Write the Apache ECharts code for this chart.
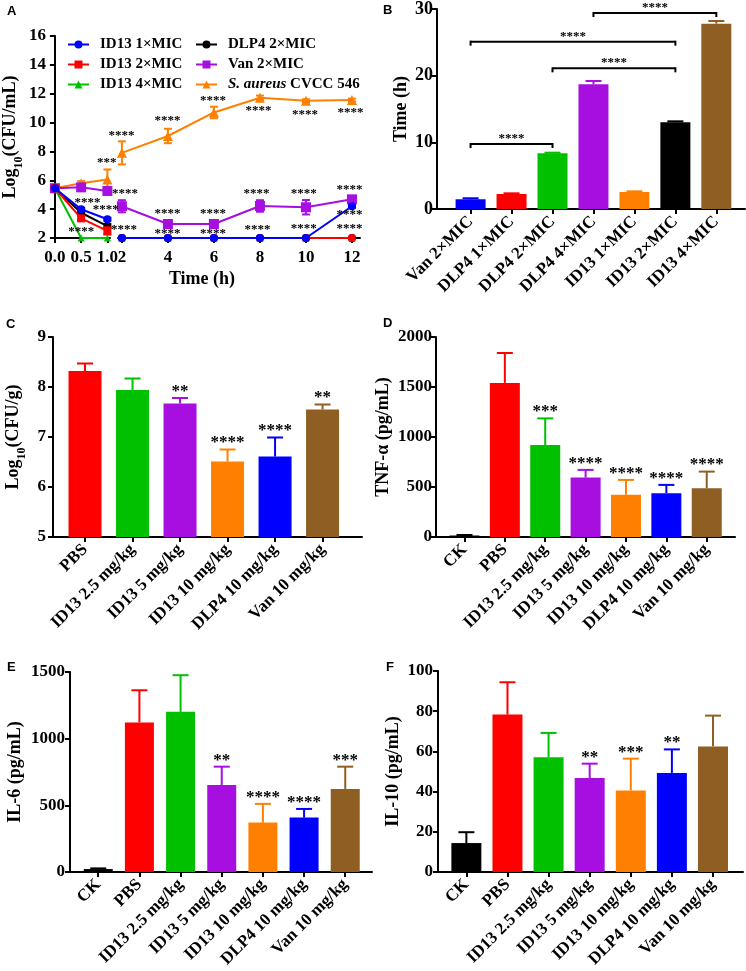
<!DOCTYPE html>
<html><head><meta charset="utf-8">
<script src="https://cdn.jsdelivr.net/npm/echarts@6/dist/echarts.min.js"></script>
<style>html,body{margin:0;padding:0;background:#fff}#chart{width:746px;height:971px}</style>
</head><body><div id="chart"></div>
<script>
// ---------- Panel A : time-kill curves (broken time axis) ----------
const timesEarly = [0, 0.5, 1.0];
const timesLate = [2, 4, 6, 8, 10, 12];
const timeTicksEarly = [0, 0.5, 1.0];
const timeTicksLate = [2, 4, 6, 8, 10, 12];

const id13x1Early = [5.45, 3.99, 3.30];
const id13x1Late  = [2, 2, 2, 2, 2, 4.20];
const id13x1ErrEarly = [0.08, 0.1, 0.1];
const id13x1ErrLate  = [0, 0, 0, 0, 0, 0.1];

const id13x2Early = [5.45, 3.36, 2.49];
const id13x2Late  = [2, 2, 2, 2, 2, 2];
const id13x2ErrEarly = [0.08, 0.15, 0.25];

const id13x4Early = [5.45, 2, 2];
const id13x4Late  = [2, 2, 2, 2, 2, 2];

const dlp4x2Early = [5.45, 3.75, 2.83];
const dlp4x2Late  = [2, 2, 2, 2, 2, 2];
const dlp4x2ErrEarly = [0.08, 0.1, 0.15];

const vanx2Early = [5.45, 5.51, 5.26];
const vanx2Late  = [4.20, 2.97, 2.97, 4.22, 4.13, 4.68];
const vanx2ErrEarly = [0.1, 0.15, 0.15];
const vanx2ErrLate  = [0.42, 0.1, 0.1, 0.4, 0.5, 0.15];

const saurEarly = [5.45, 5.79, 6.05];
const saurLate  = [7.90, 9.07, 10.70, 11.72, 11.52, 11.56];
const saurErrEarly = [0.1, 0.15, 0.7];
const saurErrLate  = [0.8, 0.5, 0.4, 0.15, 0.1, 0.1];

// significance marks of panel A: [time, log10 value, mark]
const starsAEarly = [[0.62, 4.43, '****'], [0.5, 2.42, '****'], [0.99, 7.25, '***'], [0.97, 3.95, '****']];
const starsALate = [
  [1.98, 9.08, '****'], [2.13, 5.06, '****'], [2.09, 2.58, '****'],
  [3.98, 10.12, '****'], [5.96, 11.5, '****'], [7.94, 10.81, '****'], [9.96, 10.53, '****'], [11.94, 10.67, '****'],
  [3.98, 3.67, '****'], [5.96, 3.67, '****'], [7.85, 5.06, '****'], [9.91, 5.06, '****'], [11.89, 5.33, '****'],
  [11.89, 3.6, '****'],
  [3.98, 2.29, '****'], [5.96, 2.29, '****'], [7.89, 2.56, '****'], [9.91, 2.63, '****'], [11.89, 2.63, '****']
];

// ---------- Panel B ----------
const catsB = ['Van 2×MIC', 'DLP4 1×MIC', 'DLP4 2×MIC', 'DLP4 4×MIC', 'ID13 1×MIC', 'ID13 2×MIC', 'ID13 4×MIC'];
const valsB = [1.46, 2.25, 8.35, 18.7, 2.55, 13.0, 27.8];
const errsB = [0.15, 0.1, 0.1, 0.5, 0.1, 0.15, 0.4];
const starsB = ['', '', '', '', '', '', ''];
// brackets: [from category, to category, height (h), mark]
const bracketsB = [[0, 2, 9.75, '****'], [2, 5, 21.1, '****'], [0, 5, 25.1, '****'], [3, 6, 29.4, '****']];

// ---------- Panel C ----------
const catsC = ['PBS', 'ID13 2.5 mg/kg', 'ID13 5 mg/kg', 'ID13 10 mg/kg', 'DLP4 10 mg/kg', 'Van 10 mg/kg'];
const valsC = [8.32, 7.94, 7.67, 6.51, 6.61, 7.55];
const errsC = [0.15, 0.23, 0.11, 0.24, 0.38, 0.10];
const starsC = ['', '', '**', '****', '****', '**'];

// ---------- Panels D, E, F ----------
const catsDEF = ['CK', 'PBS', 'ID13 2.5 mg/kg', 'ID13 5 mg/kg', 'ID13 10 mg/kg', 'DLP4 10 mg/kg', 'Van 10 mg/kg'];
const valsD = [15, 1541, 920, 594, 422, 438, 488];
const errsD = [5, 299, 266, 77, 149, 83, 166];
const starsD = ['', '', '***', '****', '****', '****', '****'];

const valsE = [22, 1122, 1201, 653, 371, 408, 623];
const errsE = [5, 241, 275, 137, 140, 65, 167];
const starsE = ['', '', '', '**', '****', '****', '***'];

const valsF = [14.4, 78.3, 57.1, 46.8, 40.6, 49.3, 62.5];
const errsF = [5.4, 16.1, 12.1, 7.1, 15.8, 11.7, 15.3];
const starsF = ['', '', '', '**', '***', '**', ''];

// ---------- styling ----------
const SERIF = 'Liberation Serif';
const BLUE = '#0000FF', RED = '#FF0000', GREEN = '#00C000', BLACK = '#000000',
      PURPLE = '#A60FE0', ORANGE = '#FF8000', BROWN = '#8E5E22';
const colorsB = [BLUE, RED, GREEN, PURPLE, ORANGE, BLACK, BROWN];
const colorsC = [RED, GREEN, PURPLE, ORANGE, BLUE, BROWN];
const colorsDEF = [BLACK, RED, GREEN, PURPLE, ORANGE, BLUE, BROWN];

const grids = [
  {left: 49, top: 36, width: 61, height: 202},   // A early
  {left: 118, top: 36, width: 242, height: 202}, // A late
  {left: 437, top: 9, width: 308, height: 200},  // B
  {left: 53, top: 337, width: 309, height: 200}, // C
  {left: 436, top: 337, width: 299, height: 200},// D
  {left: 70, top: 672, width: 302, height: 200}, // E
  {left: 438, top: 671, width: 305, height: 201} // F
];

const lineAxis = {show: true, onZero: false, lineStyle: {color: '#000', width: 2}};
const tickStyle = {show: true, length: 5, lineStyle: {color: '#000', width: 2}};
function lbl(size, extra) {
  return Object.assign({color: '#000', fontFamily: SERIF, fontWeight: 'bold', fontSize: size}, extra || {});
}
const nameRich = {s: {fontFamily: SERIF, fontWeight: 'bold', fontSize: 12, verticalAlign: 'bottom', padding: [0, 0, -6, 0]}};

const xAxes = [], yAxes = [], series = [];

// ----- panel A axes -----
xAxes.push({gridIndex: 0, type: 'value', min: 0, max: 1.05,
  axisLine: lineAxis, axisTick: Object.assign({customValues: timeTicksEarly}, tickStyle),
  axisLabel: lbl(17, {customValues: timeTicksEarly, margin: 11, formatter: v => v.toFixed(1)}),
  splitLine: {show: false}});
xAxes.push({gridIndex: 1, type: 'value', min: 1.83, max: 12.35,
  axisLine: lineAxis, axisTick: Object.assign({customValues: timeTicksLate}, tickStyle),
  axisLabel: lbl(17, {customValues: timeTicksLate, margin: 11, formatter: v => String(Math.round(v))}),
  splitLine: {show: false}});
yAxes.push({gridIndex: 0, type: 'value', min: 2, max: 16, interval: 2,
  axisLine: lineAxis, axisTick: tickStyle, axisLabel: lbl(17, {margin: 9, formatter: v => String(v)}), splitLine: {show: false},
  name: 'Log{s|10}(CFU/mL)', nameLocation: 'middle', nameRotate: 90, nameGap: 30,
  nameTextStyle: lbl(18, {rich: nameRich})});
yAxes.push({gridIndex: 1, type: 'value', min: 2, max: 16, interval: 2, show: false});

function lineSer(name, color, symbol, size, xs, ys, gi, z) {
  return {type: 'line', name: name, xAxisIndex: gi, yAxisIndex: gi,
    data: xs.map((x, i) => [x, ys[i]]), symbol: symbol, symbolSize: size,
    itemStyle: {color: color}, lineStyle: {color: color, width: 2}, z: z,
    clip: false, animation: false};
}
function errSer(color, xs, ys, es, gi, z, both, capHalf) {
  return {type: 'custom', xAxisIndex: gi, yAxisIndex: gi, silent: true, z: z, animation: false,
    data: xs.map((x, i) => [x, ys[i], es[i]]).filter(d => d[2] > 0),
    renderItem: function (p, api) {
      const x = api.value(0), y = api.value(1), e = api.value(2);
      const top = api.coord([x, y + e]);
      const bot = api.coord([x, both ? y - e : y]);
      const st = {stroke: color, lineWidth: 2};
      const ch = [
        {type: 'line', shape: {x1: top[0], y1: top[1], x2: bot[0], y2: bot[1]}, style: st},
        {type: 'line', shape: {x1: top[0] - capHalf, y1: top[1], x2: top[0] + capHalf, y2: top[1]}, style: st}
      ];
      if (both) ch.push({type: 'line', shape: {x1: bot[0] - capHalf, y1: bot[1], x2: bot[0] + capHalf, y2: bot[1]}, style: st});
      return {type: 'group', children: ch};
    }};
}
function textSer(items, gi, size) {
  return {type: 'custom', xAxisIndex: gi, yAxisIndex: gi, silent: true, z: 20, animation: false,
    data: items.map(d => [d[0], d[1]]),
    renderItem: function (p, api) {
      const pt = api.coord([api.value(0), api.value(1)]);
      return {type: 'text', x: pt[0], y: pt[1],
        style: {text: items[p.dataIndex][2], textAlign: 'center', textVerticalAlign: 'middle',
          font: 'bold ' + size + 'px "' + SERIF + '"', fill: '#000'}};
    }};
}

const aDefs = [
  ['S. aureus CVCC 546', ORANGE, 'triangle', 10, saurEarly, saurLate, saurErrEarly, saurErrLate, 2],
  ['Van 2×MIC', PURPLE, 'rect', 10, vanx2Early, vanx2Late, vanx2ErrEarly, vanx2ErrLate, 3],
  ['ID13 4×MIC', GREEN, 'triangle', 7, id13x4Early, id13x4Late, null, null, 4],
  ['DLP4 2×MIC', BLACK, 'circle', 8, dlp4x2Early, dlp4x2Late, dlp4x2ErrEarly, null, 5],
  ['ID13 2×MIC', RED, 'rect', 8, id13x2Early, id13x2Late, id13x2ErrEarly, null, 6],
  ['ID13 1×MIC', BLUE, 'circle', 8, id13x1Early, id13x1Late, id13x1ErrEarly, id13x1ErrLate, 7]
];
aDefs.forEach(d => {
  series.push(lineSer(d[0], d[1], d[2], d[3], timesEarly, d[4], 0, d[8]));
  const lateSym = d[0] === 'ID13 2×MIC' ? 'circle' : d[2];
  series.push(lineSer(d[0], d[1], lateSym, d[3], timesLate, d[5], 1, d[8]));
  if (d[6]) series.push(errSer(d[1], timesEarly, d[4], d[6], 0, d[8], true, 4));
  if (d[7]) series.push(errSer(d[1], timesLate, d[5], d[7], 1, d[8], true, 4));
});
series.push(textSer(starsAEarly, 0, 13));
series.push(textSer(starsALate, 1, 13));

// ----- bar panels -----
function barPanel(gi, cats, vals, errs, colors, stars, yMin, yMax, yStep, xMin, xMax, barW, cap, yName, nameGap, lblMargin, tickSize, starSize) {
  const ticks = cats.map((_, i) => i);
  xAxes.push({gridIndex: gi, type: 'value', min: xMin, max: xMax,
    axisLine: lineAxis, axisTick: Object.assign({customValues: ticks}, tickStyle),
    axisLabel: lbl(17, {customValues: ticks, rotate: 45, margin: 10, formatter: v => cats[Math.round(v)]}),
    splitLine: {show: false}});
  yAxes.push({gridIndex: gi, type: 'value', min: yMin, max: yMax, interval: yStep,
    axisLine: lineAxis, axisTick: tickStyle, axisLabel: lbl(tickSize, {margin: lblMargin, formatter: v => String(v)}), splitLine: {show: false},
    name: yName, nameLocation: 'middle', nameRotate: 90, nameGap: nameGap,
    nameTextStyle: lbl(18, {rich: nameRich})});
  series.push({type: 'bar', xAxisIndex: gi, yAxisIndex: gi, barWidth: barW, animation: false,
    data: vals.map((v, i) => ({value: [i, v], itemStyle: {color: colors[i]}}))});
  series.push({type: 'custom', xAxisIndex: gi, yAxisIndex: gi, silent: true, z: 3, animation: false,
    data: vals.map((v, i) => [i, v, errs[i]]),
    renderItem: function (p, api) {
      const i = api.value(0), v = api.value(1), e = api.value(2);
      const top = api.coord([i, v + e]), base = api.coord([i, v]);
      const st = {stroke: colors[p.dataIndex], lineWidth: 2};
      const ch = [
        {type: 'line', shape: {x1: top[0], y1: top[1], x2: base[0], y2: base[1]}, style: st},
        {type: 'line', shape: {x1: top[0] - cap, y1: top[1], x2: top[0] + cap, y2: top[1]}, style: st}
      ];
      if (stars[p.dataIndex]) ch.push({type: 'text', x: top[0], y: top[1] + 2,
        style: {text: stars[p.dataIndex], textAlign: 'center', textVerticalAlign: 'bottom',
          font: 'bold ' + starSize + 'px "' + SERIF + '"', fill: '#000'}});
      return {type: 'group', children: ch};
    }});
}

barPanel(2, catsB, valsB, errsB, colorsB, starsB, 0, 30, 10, -0.82, 6.70, 30, 8, 'Time (h)', 27, 4, 18, 13);
barPanel(3, catsC, valsC, errsC, colorsC, starsC, 5, 9, 1, -0.674, 5.83, 33, 8, 'Log{s|10}(CFU/g)', 31, 7, 17, 17);
barPanel(4, catsDEF, valsD, errsD, colorsDEF, starsD, 0, 2000, 500, -0.705, 6.70, 30, 8, 'TNF-α (pg/mL)', 44, 4, 17, 17);
barPanel(5, catsDEF, valsE, errsE, colorsDEF, starsE, 0, 1500, 500, -0.686, 6.65, 29, 8, 'IL-6 (pg/mL)', 46, 5, 17, 17);
barPanel(6, catsDEF, valsF, errsF, colorsDEF, starsF, 0, 100, 20, -0.69, 6.73, 30, 8, 'IL-10 (pg/mL)', 36, 5, 17, 17);

// brackets of panel B
series.push({type: 'custom', xAxisIndex: 2, yAxisIndex: 2, silent: true, z: 10, animation: false,
  data: bracketsB.map(b => [b[0], b[1], b[2]]),
  renderItem: function (p, api) {
    const a = api.coord([api.value(0), api.value(2)]);
    const b = api.coord([api.value(1), api.value(2)]);
    const st = {stroke: '#000', lineWidth: 2};
    return {type: 'group', children: [
      {type: 'line', shape: {x1: a[0], y1: a[1], x2: b[0], y2: b[1]}, style: st},
      {type: 'line', shape: {x1: a[0], y1: a[1] - 1, x2: a[0], y2: a[1] + 4}, style: st},
      {type: 'line', shape: {x1: b[0], y1: b[1] - 1, x2: b[0], y2: b[1] + 4}, style: st},
      {type: 'text', x: (a[0] + b[0]) / 2, y: a[1] + 1,
        style: {text: bracketsB[p.dataIndex][3], textAlign: 'center', textVerticalAlign: 'bottom',
          font: 'bold 13px "' + SERIF + '"', fill: '#000'}}
    ]};
  }});

const legendText = {color: '#000', fontFamily: SERIF, fontWeight: 'bold', fontSize: 15, padding: [0, 0, 0, 6],
  rich: {i: {color: '#000', fontFamily: SERIF, fontWeight: 'bold', fontStyle: 'italic', fontSize: 15}}};
const legendFmt = n => n === 'S. aureus CVCC 546' ? '{i|S. aureus} CVCC 546' : n;

function letter(t, x, y) {
  return {type: 'text', left: x, top: y, style: {text: t, font: 'bold 13px "Liberation Sans"', fill: '#000'}};
}

const option = {
  animation: false,
  backgroundColor: '#fff',
  grid: grids,
  xAxis: xAxes,
  yAxis: yAxes,
  legend: [
    {orient: 'vertical', left: 62, top: 32, itemWidth: 21, itemHeight: 10, itemGap: 5,
      data: ['ID13 1×MIC', 'ID13 2×MIC', 'ID13 4×MIC'], textStyle: legendText, formatter: legendFmt, selectedMode: false},
    {orient: 'vertical', left: 190, top: 32, itemWidth: 21, itemHeight: 10, itemGap: 5,
      data: ['DLP4 2×MIC', 'Van 2×MIC', 'S. aureus CVCC 546'], textStyle: legendText, formatter: legendFmt, selectedMode: false}
  ],
  graphic: [
    letter('A', 7, 5), letter('B', 383, 4), letter('C', 6, 318),
    letter('D', 383, 317), letter('E', 7, 661), letter('F', 386, 661),
    {type: 'text', x: 202, y: 279, style: {text: 'Time (h)', textAlign: 'center', textVerticalAlign: 'middle',
      font: 'bold 18px "' + SERIF + '"', fill: '#000'}}
  ],
  series: series
};

const chart = echarts.init(document.getElementById('chart'), null, {renderer: 'canvas'});
chart.setOption(option);
</script>
</body></html>
